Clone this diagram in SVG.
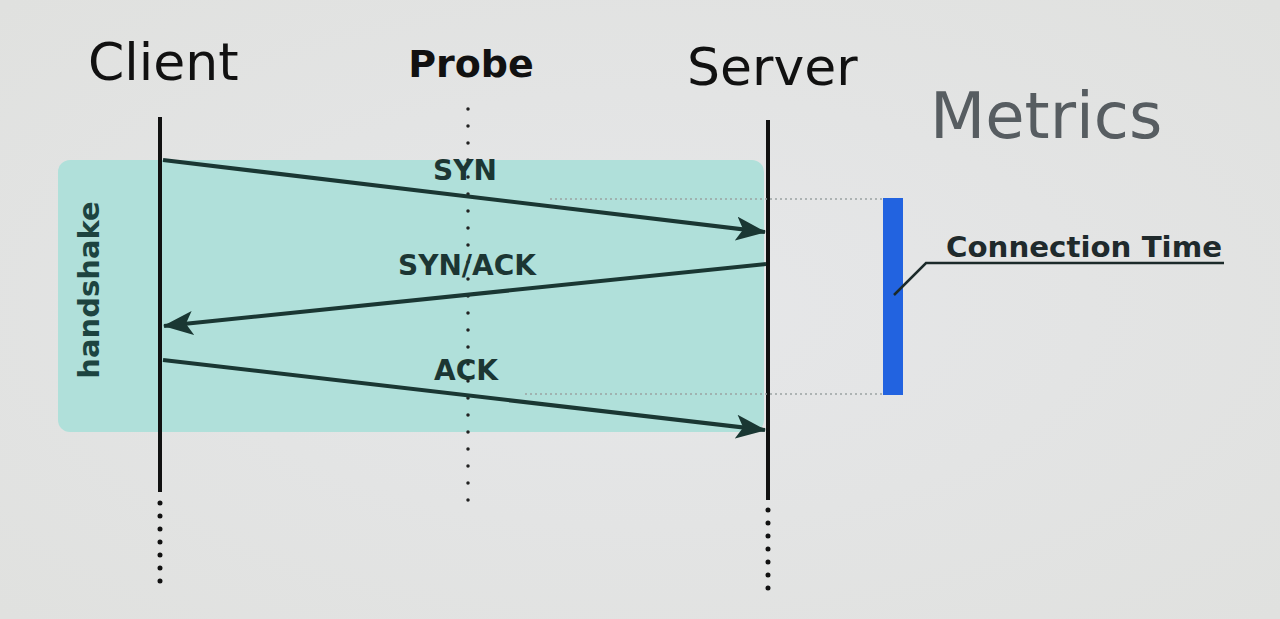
<svg xmlns="http://www.w3.org/2000/svg" width="1280" height="619" viewBox="0 0 1280 619">
<defs>
<marker id="ah2" viewBox="0 0 30 24" refX="29" refY="12" markerWidth="30" markerHeight="24" markerUnits="userSpaceOnUse" orient="auto">
<path d="M0,0 L30,12 L0,24 L7,12 Z" fill="#1a3733"/>
</marker>
<radialGradient id="bg" cx="0.5" cy="0.5" r="0.7">
<stop offset="0" stop-color="#e6e7e9"/>
<stop offset="1" stop-color="#e0e1df"/>
</radialGradient>
<style>
.hdr{font-family:"DejaVu Sans",sans-serif;fill:#111}
.lbl{font-family:"DejaVu Sans",sans-serif;font-weight:bold;fill:#1c3633;font-size:28px;text-anchor:middle}
.life{stroke:#111;stroke-width:4}
.dots{stroke:#111;stroke-width:5;stroke-linecap:round;stroke-dasharray:0 13}
.msg{stroke:#1a3733;stroke-width:4;fill:none;marker-end:url(#ah2)}
.guide{stroke:#9aa3a3;stroke-width:1.5;stroke-dasharray:2 3}
</style>
</defs>
<rect width="1280" height="619" fill="url(#bg)"/>
<g id="handshake">
<rect x="58" y="160" width="706" height="272" rx="12" fill="#b0e0da"/>
<text transform="translate(99,290) rotate(-90)" text-anchor="middle" font-family="DejaVu Sans, sans-serif" font-weight="bold" font-size="29" fill="#1d4440">handshake</text>
</g>
<g id="client">
<text class="hdr" x="88" y="80" font-size="52">Client</text>
<line class="life" x1="160" y1="117" x2="160" y2="492"/>
<line class="dots" x1="160" y1="503" x2="160" y2="590"/>
</g>
<g id="probe">
<text class="hdr" x="471" y="77" font-size="38" font-weight="bold" text-anchor="middle">Probe</text>
<line stroke="#222" stroke-width="3.5" stroke-linecap="round" stroke-dasharray="0 17" x1="468" y1="109" x2="468" y2="505"/>
</g>
<g id="server">
<text class="hdr" x="687" y="85" font-size="52">Server</text>
<line class="life" x1="768" y1="120" x2="768" y2="500"/>
<line class="dots" x1="768" y1="510" x2="768" y2="595"/>
</g>
<g id="metrics">
<text x="930" y="138" font-family="DejaVu Sans, sans-serif" font-size="64" fill="#575d61">Metrics</text>
<line class="guide" x1="550" y1="199" x2="883" y2="199"/>
<line class="guide" x1="525" y1="394" x2="883" y2="394"/>
<rect x="883" y="198" width="20" height="197" fill="#2263e0"/>
</g>
<g id="connection-time">
<polyline points="894,295 926,263 1224,263" fill="none" stroke="#1c2a2a" stroke-width="2.5"/>
<text x="946" y="257" font-family="DejaVu Sans, sans-serif" font-weight="bold" font-size="28" fill="#1f2a2c" textLength="276" lengthAdjust="spacingAndGlyphs">Connection Time</text>
</g>
<g id="connectors">
<line class="msg" x1="163" y1="160" x2="765" y2="232"/>
<line class="msg" x1="766" y1="264" x2="164" y2="326"/>
<line class="msg" x1="163" y1="360" x2="765" y2="430"/>
<text class="lbl" x="465" y="180">SYN</text>
<text class="lbl" x="467" y="275">SYN/ACK</text>
<text class="lbl" x="466" y="380">ACK</text>
</g>
</svg>
